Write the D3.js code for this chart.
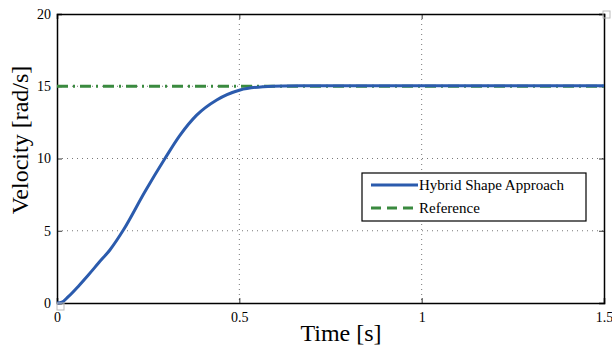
<!DOCTYPE html>
<html>
<head>
<meta charset="utf-8">
<script src="https://cdn.jsdelivr.net/npm/d3@7"></script>
<style>
  body { margin: 0; background: #fff; }
  svg { display: block; font-family: "Liberation Serif", "Times New Roman", serif; }
</style>
</head>
<body>
<svg id="chart" width="612" height="349"></svg>
<script>
// data
const timeS = [0, 0.013, 0.031, 0.06, 0.086, 0.115, 0.145, 0.182, 0.241, 0.296, 0.337, 0.383, 0.438, 0.502, 0.566, 0.62, 0.7, 0.8, 1.0, 1.5];
const velocity = [0, 0.05, 0.44, 1.2, 1.94, 2.8, 3.67, 5.05, 7.7, 10.0, 11.6, 13.0, 14.05, 14.74, 14.97, 15.02, 15.03, 15.03, 15.03, 15.03];
const refTime = [0, 1.5];
const refVelocity = [15, 15];
const xTicks = [0, 0.5, 1, 1.5];
const yTicks = [0, 5, 10, 15, 20];
const legendLabels = ["Hybrid Shape Approach", "Reference"];

const margin = { left: 57, right: 8, top: 14, bottom: 46 };
const W = 612, H = 349;
const width = W - margin.left - margin.right;
const height = H - margin.top - margin.bottom;

const svg = d3.select("#chart");
const g = svg.append("g").attr("transform", `translate(${margin.left},${margin.top})`);

const x = d3.scaleLinear().domain([0, 1.5]).range([0, width]);
const y = d3.scaleLinear().domain([0, 20]).range([height, 0]);

// grid
g.append("g").selectAll("line").data(xTicks.slice(1, -1)).join("line")
  .attr("x1", d => x(d)).attr("x2", d => x(d)).attr("y1", 0).attr("y2", height)
  .attr("stroke", "#555").attr("stroke-width", 0.8).attr("stroke-dasharray", "1,4");
g.append("g").selectAll("line").data(yTicks.slice(1, -1)).join("line")
  .attr("y1", d => y(d)).attr("y2", d => y(d)).attr("x1", 0).attr("x2", width)
  .attr("stroke", "#555").attr("stroke-width", 0.8).attr("stroke-dasharray", "1,4");

// axes, ticks inward
const fmt = d => d3.format("")(d);
const ax = g.append("g").attr("transform", `translate(0,${height})`)
  .call(d3.axisBottom(x).tickValues(xTicks).tickSize(-5).tickPadding(9).tickFormat(fmt));
const axTop = g.append("g").call(d3.axisTop(x).tickValues(xTicks).tickSize(-5).tickFormat(""));
const ay = g.append("g").call(d3.axisLeft(y).tickValues(yTicks).tickSize(-5).tickPadding(6).tickFormat(fmt));
const ayR = g.append("g").attr("transform", `translate(${width},0)`)
  .call(d3.axisRight(y).tickValues(yTicks).tickSize(-5).tickFormat(""));
[ax, axTop, ay, ayR].forEach(a => {
  a.select(".domain").attr("stroke", "#000").attr("stroke-width", 1.5);
  a.selectAll(".tick line").attr("stroke", "#000").attr("stroke-width", 0.8);
  a.selectAll("text").attr("font-family", "Liberation Serif").attr("font-size", 14).attr("fill", "#000");
});

// lines
const line = d3.line().x(d => x(d[0])).y(d => y(d[1])).curve(d3.curveMonotoneX);
g.append("path").datum(d3.zip(refTime, refVelocity))
  .attr("d", line).attr("fill", "none").attr("stroke", "#3a8a3f")
  .attr("stroke-width", 3).attr("stroke-dasharray", "11,5,2,5");
g.append("path").datum(d3.zip(timeS, velocity))
  .attr("d", line).attr("fill", "none").attr("stroke", "#2b5bad")
  .attr("stroke-width", 3);

// axis labels
svg.append("text").attr("x", 341).attr("y", 341).attr("text-anchor", "middle")
  .attr("font-size", 24).text("Time [s]");
svg.append("text").attr("transform", "translate(28,140) rotate(-90)").attr("text-anchor", "middle")
  .attr("font-size", 24).text("Velocity [rad/s]");

// legend
const lg = svg.append("g").attr("transform", "translate(362,173)");
lg.append("rect").attr("width", 224).attr("height", 48)
  .attr("fill", "#fff").attr("stroke", "#000").attr("stroke-width", 1.2);
const legColors = ["#2b5bad", "#3a8a3f"];
const legDash = [null, "10,6"];
legendLabels.forEach((lab, i) => {
  const yy = 12 + i * 23;
  lg.append("line").attr("x1", 9).attr("x2", 56).attr("y1", yy).attr("y2", yy)
    .attr("stroke", legColors[i]).attr("stroke-width", 3).attr("stroke-dasharray", legDash[i]);
  lg.append("text").attr("x", 57).attr("y", yy + 5).attr("font-size", 15).text(lab);
});

// small grey markers at corners
[[57, 303], [603, 11]].forEach(p => {
  svg.append("rect").attr("x", p[0]).attr("y", p[1]).attr("width", 7).attr("height", 7)
    .attr("fill", "none").attr("stroke", "#bbb").attr("stroke-width", 1);
});
</script>
</body>
</html>
